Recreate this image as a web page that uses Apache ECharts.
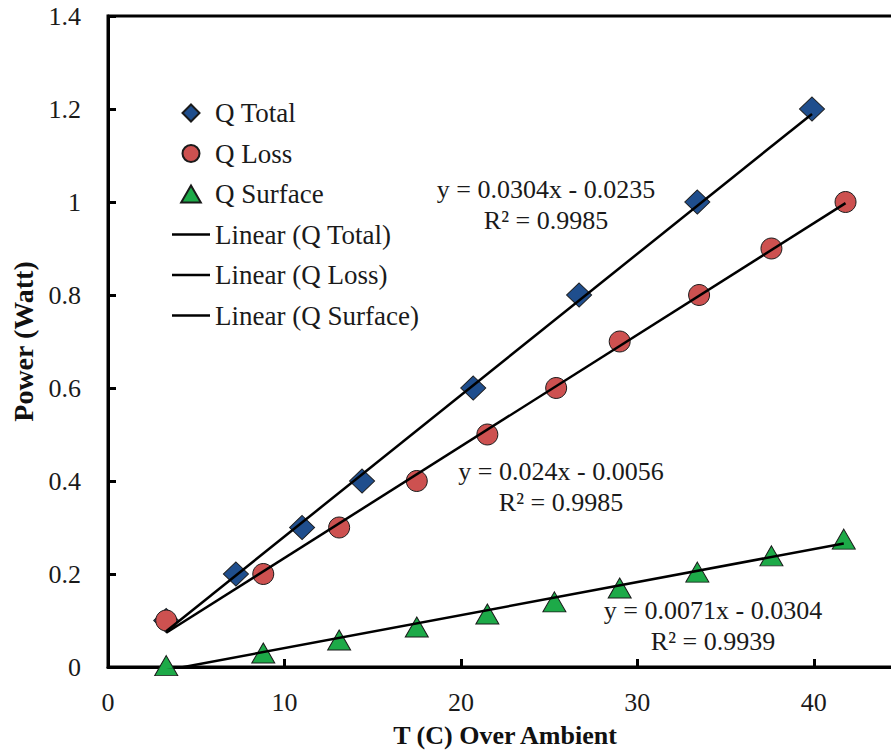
<!DOCTYPE html>
<html>
<head>
<meta charset="utf-8">
<style>
  html, body { margin: 0; padding: 0; background: #ffffff; }
  #chart { width: 891px; height: 752px; }
</style>
<script src="https://cdn.jsdelivr.net/npm/echarts@6/dist/echarts.min.js"></script>
</head>
<body>
<div id="chart"></div>
<script>
// Measured heating power against temperature rise over ambient
const totalX = [3.3, 7.25, 11.0, 14.4, 20.7, 26.7, 33.4, 39.9];
const totalY = [0.1, 0.2, 0.3, 0.4, 0.6, 0.8, 1.0, 1.2];

const lossX = [3.3, 8.8, 13.1, 17.5, 21.5, 25.4, 29.0, 33.5, 37.6, 41.8];
const lossY = [0.1, 0.2, 0.3, 0.4, 0.5, 0.6, 0.7, 0.8, 0.9, 1.0];

const surfX = [3.3, 8.8, 13.1, 17.5, 21.5, 25.3, 29.0, 33.4, 37.6, 41.7];
const surfY = [0.003, 0.03, 0.058, 0.086, 0.114, 0.14, 0.17, 0.204, 0.239, 0.275];

// Least-squares fits (slope, intercept, R²) as printed on the chart
const fitNames = ['Q Total', 'Q Loss', 'Q Surface'];
const fitSlope = [0.0304, 0.024, 0.0071];
const fitIntercept = [-0.0235, -0.0056, -0.0304];
const fitR2 = ['0.9985', '0.9985', '0.9939'];

const FONT = '"Liberation Serif", "Times New Roman", serif';

function pairs(xs, ys) { return xs.map((x, i) => [x, ys[i]]); }

function fitLine(k, xs) {
  const x0 = Math.min(...xs), x1 = Math.max(...xs);
  return [[x0, fitSlope[k] * x0 + fitIntercept[k]], [x1, fitSlope[k] * x1 + fitIntercept[k]]];
}

function eqText(k) {
  const b = fitIntercept[k];
  const sign = b < 0 ? ' - ' : ' + ';
  return 'y = ' + fitSlope[k] + 'x' + sign + Math.abs(b).toFixed(4) + '\nR² = ' + fitR2[k];
}

const chart = echarts.init(document.getElementById('chart'), null, { renderer: 'svg' });

const markerBorder = { borderColor: '#1a1a1a', borderWidth: 1, opacity: 1 };
const trendStyle = { color: '#000000', width: 2.5 };

const seriesX = [totalX, lossX, surfX];

// Legend icons drawn with their own aspect ratio kept
const ICON_DIAMOND = 'path://M0,-1L1,0L0,1L-1,0Z';
const ICON_CIRCLE = 'path://M-1,0A1,1,0,1,0,1,0A1,1,0,1,0,-1,0Z';
const ICON_TRIANGLE = 'path://M0,-0.866L1,0.866L-1,0.866Z';
const ICON_LINE = 'path://M0,0H38V2.5H0Z';

// Annotation placement (pixel centre of each two-line equation block)
const eqPos = [
  { x: 546, y: 204.5 },
  { x: 561, y: 487 },
  { x: 713, y: 626 }
];

const graphics = eqPos.map((p, k) => ({
  type: 'text', x: p.x, y: p.y, z: 100,
  style: {
    text: eqText(k), fontFamily: FONT, fontSize: 26, lineHeight: 31,
    fill: '#1a1a1a', align: 'center', verticalAlign: 'middle'
  }
}));

chart.setOption({
  animation: false,
  backgroundColor: '#ffffff',
  grid: {
    left: 108, top: 16, right: -11, bottom: 85,
    outerBoundsMode: 'none',
    show: true, borderColor: '#000000', borderWidth: 3, backgroundColor: 'transparent'
  },
  legend: {
    orient: 'vertical',
    left: 172, top: 98, padding: 0,
    itemWidth: 38, itemHeight: 17, itemGap: 10.5,
    textStyle: { fontFamily: FONT, fontSize: 27, color: '#1a1a1a', lineHeight: 30 },
    data: [
      { name: 'Q Total', icon: ICON_DIAMOND },
      { name: 'Q Loss', icon: ICON_CIRCLE },
      { name: 'Q Surface', icon: ICON_TRIANGLE },
      { name: 'Linear (Q Total)', icon: ICON_LINE },
      { name: 'Linear (Q Loss)', icon: ICON_LINE },
      { name: 'Linear (Q Surface)', icon: ICON_LINE }
    ]
  },
  xAxis: {
    type: 'value', min: 0, max: 45, interval: 10,
    name: 'T (C) Over Ambient', nameLocation: 'middle', nameGap: 55,
    nameTextStyle: { fontFamily: FONT, fontSize: 26, fontWeight: 'bold', color: '#111111' },
    axisLine: { lineStyle: { color: '#000000', width: 3 } },
    axisTick: { inside: true, length: 8, lineStyle: { color: '#000000', width: 3 } },
    axisLabel: {
      fontFamily: FONT, fontSize: 26, color: '#1a1a1a', margin: 22,
      formatter: v => (v % 10 === 0 ? String(v) : '')
    },
    splitLine: { show: false }
  },
  yAxis: {
    type: 'value', min: 0, max: 1.4, interval: 0.2,
    name: 'Power (Watt)', nameLocation: 'middle', nameGap: 70,
    nameTextStyle: { fontFamily: FONT, fontSize: 28, fontWeight: 'bold', color: '#111111' },
    axisLine: { lineStyle: { color: '#000000', width: 3 } },
    axisTick: { inside: true, length: 8, lineStyle: { color: '#000000', width: 3 } },
    axisLabel: { fontFamily: FONT, fontSize: 26, color: '#1a1a1a', margin: 27 },
    splitLine: { show: false }
  },
  series: [
    {
      name: 'Q Total', type: 'scatter', symbol: 'diamond', symbolSize: [25, 24],
      itemStyle: Object.assign({ color: '#1F4E8D' }, markerBorder),
      data: pairs(totalX, totalY), z: 3
    },
    {
      name: 'Q Loss', type: 'scatter', symbol: 'circle', symbolSize: 21,
      itemStyle: Object.assign({ color: '#CD5150' }, markerBorder),
      data: pairs(lossX, lossY), z: 3
    },
    {
      name: 'Q Surface', type: 'scatter', symbol: 'triangle', symbolSize: [23, 20],
      itemStyle: Object.assign({ color: '#1DAA48' }, markerBorder),
      data: pairs(surfX, surfY), z: 3
    }
  ].concat(fitNames.map((n, k) => ({
    name: 'Linear (' + n + ')', type: 'line', symbol: 'none', showSymbol: false,
    lineStyle: trendStyle, itemStyle: { color: '#000000' },
    data: fitLine(k, seriesX[k]), z: 5, silent: true, clip: true
  }))),
  graphic: graphics
});
</script>
</body>
</html>
